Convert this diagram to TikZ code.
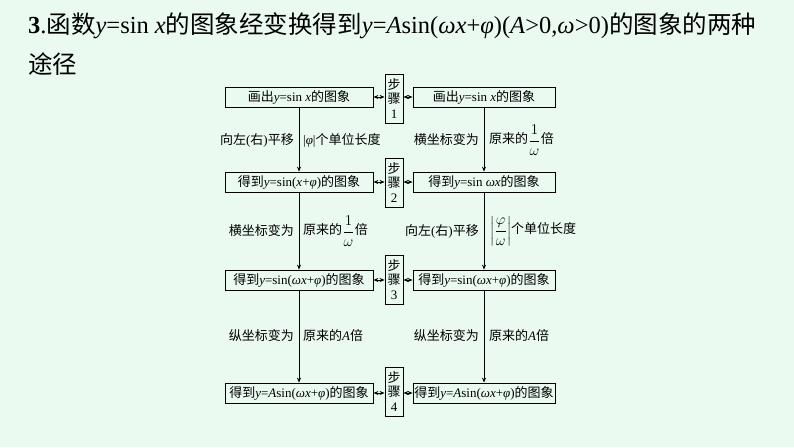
\documentclass[tikz,border=0pt]{standalone}
\usepackage{fontspec}
\setmainfont{Liberation Serif}
\newfontfamily\cjk{Noto Sans CJK SC}
\newcommand\zh[1]{{\cjk #1}}
\newcommand\iv[1]{\textit{#1}}
\newcommand\fr[2]{\raisebox{-1pt}{\scalebox{1.25}{$\displaystyle\frac{#1}{#2}$}}}
\usetikzlibrary{arrows.meta}
\definecolor{bgc}{RGB}{234,250,240}
\begin{document}
\begin{tikzpicture}[x=1pt,y=-1pt,
  box/.style={draw,line width=0.8pt,minimum height=20pt,inner sep=1pt,font=\fontsize{13}{14}\selectfont},
  stepbox/.style={draw,line width=0.8pt,minimum width=18pt,inner sep=1pt,align=center,font=\fontsize{13}{14.5}\selectfont},
  lab/.style={font=\fontsize{13}{14}\selectfont,inner sep=1pt},
  arr/.style={-{Stealth[length=5pt,width=4pt]},line width=0.8pt},
  darr/.style={{Stealth[length=5pt,width=4pt]}-{Stealth[length=5pt,width=4pt]},line width=0.8pt}]
\fill[bgc] (0,0) rectangle (794,447);
\node[anchor=west,font=\fontsize{24.5}{28}\selectfont,inner sep=0] (t1) at (28,26) {\textbf{3}.\zh{函数}\iv{y}=sin \iv{x}\zh{的图象经变换得到}\iv{y}=\iv{A}sin(\iv{ω}\iv{x}+\iv{φ})(\iv{A}>0,\iv{ω}>0)\zh{的图象的两种}};
\node[anchor=west,font=\fontsize{24.5}{28}\selectfont,inner sep=0] (t2) at (28,64) {\zh{途径}};
% left column
\node[box,minimum width=148pt] (L1) at (299,97) {\zh{画出}\iv{y}=sin \iv{x}\zh{的图象}};
\node[box,minimum width=148pt] (L2) at (299,182) {\zh{得到}\iv{y}=sin(\iv{x}+\iv{φ})\zh{的图象}};
\node[box,minimum width=148pt] (L3) at (299,280) {\zh{得到}\iv{y}=sin(\iv{ωx}+\iv{φ})\zh{的图象}};
\node[box,minimum width=148pt] (L4) at (299,393) {\zh{得到}\iv{y}=\iv{A}sin(\iv{ωx}+\iv{φ})\zh{的图象}};
% right column
\node[box,minimum width=142pt] (R1) at (484,97) {\zh{画出}\iv{y}=sin \iv{x}\zh{的图象}};
\node[box,minimum width=142pt] (R2) at (484,182) {\zh{得到}\iv{y}=sin \iv{ωx}\zh{的图象}};
\node[box,minimum width=142pt] (R3) at (484,280) {\zh{得到}\iv{y}=sin(\iv{ωx}+\iv{φ})\zh{的图象}};
\node[box,minimum width=142pt] (R4) at (484,393) {\zh{得到}\iv{y}=\iv{A}sin(\iv{ωx}+\iv{φ})\zh{的图象}};
% steps
\node[stepbox,minimum height=49pt] (S1) at (394,98.5) {\zh{步}\\\zh{骤}\\1};
\node[stepbox,minimum height=49pt] (S2) at (394,182.5) {\zh{步}\\\zh{骤}\\2};
\node[stepbox,minimum height=49pt] (S3) at (394,279.5) {\zh{步}\\\zh{骤}\\3};
\node[stepbox,minimum height=49pt] (S4) at (394,391.5) {\zh{步}\\\zh{骤}\\4};
\foreach \i in {1,2,3,4}{
  \draw[darr] (L\i.east) -- (L\i.east -| S\i.west);
  \draw[darr] (R\i.west) -- (R\i.west -| S\i.east);
}
\foreach \a/\b in {L1/L2,L2/L3,L3/L4,R1/R2,R2/R3,R3/R4}{\draw[arr] (\a) -- (\b);}
% labels
\node[lab,anchor=east] (la1) at (295,140) {\zh{向左}(\zh{右})\zh{平移}};
\node[lab,anchor=west] (lb1) at (302,140) {|\iv{φ}|\zh{个单位长度}};
\node[lab,anchor=east] (la2) at (295,231) {\zh{横坐标变为}};
\node[lab,anchor=west] (lb2) at (302,231) {\zh{原来的}\fr{1}{\omega}\zh{倍}};
\node[lab,anchor=east] (la3) at (295,336) {\zh{纵坐标变为}};
\node[lab,anchor=west] (lb3) at (302,336) {\zh{原来的}\iv{A}\zh{倍}};
\node[lab,anchor=east] (ra1) at (480,140) {\zh{横坐标变为}};
\node[lab,anchor=west] (rb1) at (488,140) {\zh{原来的}\fr{1}{\omega}\zh{倍}};
\node[lab,anchor=east] (ra2) at (480,231) {\zh{向左}(\zh{右})\zh{平移}};
\node[lab,anchor=west] (rb2) at (489,231) {\raisebox{-1pt}{\scalebox{1.25}{$\displaystyle\left|\frac{\varphi}{\omega}\right|$}}\zh{个单位长度}};
\node[lab,anchor=east] (ra3) at (480,336) {\zh{纵坐标变为}};
\node[lab,anchor=west] (rb3) at (488,336) {\zh{原来的}\iv{A}\zh{倍}};
\end{tikzpicture}
\end{document}
